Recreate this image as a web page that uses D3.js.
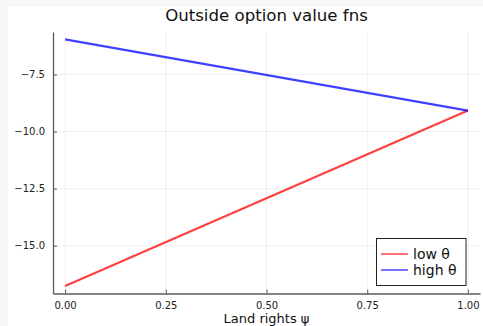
<!DOCTYPE html>
<html>
<head>
<meta charset="utf-8">
<script src="https://cdn.jsdelivr.net/npm/d3@7"></script>
<style>
  html, body { margin: 0; padding: 0; background: #f6f7f9; }
  svg { display: block; font-family: "DejaVu Sans", sans-serif; }
</style>
</head>
<body>
<svg id="chart" width="483" height="326"></svg>
<script>
// Outside option value as a function of land rights ψ
const psi = [0, 1];
const lowTheta = [-16.77, -9.08];
const highTheta = [-5.96, -9.08];
const seriesNames = ["low θ", "high θ"];
const seriesColors = ["#ff0000", "#0000ff"];
const xTicks = [0, 0.25, 0.5, 0.75, 1.0];
const yTicks = [-15, -12.5, -10, -7.5];

const svg = d3.select("#chart");
const W = 483, H = 326;

// white figure panel
svg.append("rect").attr("x", 8).attr("y", 7).attr("width", W - 8).attr("height", H - 7).attr("fill", "#ffffff");

const plot = { left: 53, right: 480, top: 32, bottom: 293.5 };

// pad the data range by 3% on each side
function widen(ext) { const d = (ext[1] - ext[0]) * 0.03; return [ext[0] - d, ext[1] + d]; }
const allY = lowTheta.concat(highTheta);
const x = d3.scaleLinear().domain(widen(d3.extent(psi))).range([plot.left, plot.right]);
const y = d3.scaleLinear().domain(widen(d3.extent(allY))).range([plot.bottom, plot.top]);

// grid
const grid = svg.append("g").attr("stroke", "#000").attr("stroke-opacity", 0.06).attr("stroke-width", 1);
xTicks.forEach(t => grid.append("line").attr("x1", x(t)).attr("x2", x(t)).attr("y1", plot.top).attr("y2", plot.bottom));
yTicks.forEach(t => grid.append("line").attr("x1", plot.left).attr("x2", plot.right).attr("y1", y(t)).attr("y2", y(t)));

// axes
const xAxis = d3.axisBottom(x).tickValues(xTicks).tickFormat(d3.format(".2f")).tickSizeInner(-4).tickSizeOuter(0).tickPadding(8);
const yAxis = d3.axisLeft(y).tickValues(yTicks).tickFormat(d3.format(".1f")).tickSizeInner(-4).tickSizeOuter(0).tickPadding(8);

const gx = svg.append("g").attr("transform", `translate(0,${plot.bottom})`).call(xAxis);
const gy = svg.append("g").attr("transform", `translate(${plot.left},0)`).call(yAxis);
[gx, gy].forEach(g => {
  g.select(".domain").attr("stroke", "#5a5a5a").attr("stroke-width", 1.3);
  g.selectAll(".tick line").attr("stroke", "#5a5a5a").attr("stroke-width", 1);
  g.selectAll(".tick text").attr("fill", "#222").style("font-size", "10px").style("font-family", "DejaVu Sans, sans-serif");
});

// series lines
const line = d3.line().x((d, i) => x(psi[i])).y(d => y(d));
[lowTheta, highTheta].forEach((s, k) => {
  svg.append("path").datum(s).attr("d", line).attr("fill", "none")
    .attr("stroke", seriesColors[k]).attr("stroke-opacity", 0.75).attr("stroke-width", 2.2);
});

// title and axis label
svg.append("text").attr("x", (plot.left + plot.right) / 2).attr("y", 21).attr("text-anchor", "middle")
  .style("font-size", "16.6px").attr("fill", "#111").text("Outside option value fns");
svg.append("text").attr("x", (plot.left + plot.right) / 2).attr("y", 323).attr("text-anchor", "middle")
  .style("font-size", "13px").attr("fill", "#111").text("Land rights ψ");

// legend
const lg = svg.append("g");
lg.append("rect").attr("x", 376.5).attr("y", 238.5).attr("width", 89.5).attr("height", 47)
  .attr("fill", "#fff").attr("stroke", "#222").attr("stroke-width", 1);
seriesNames.forEach((n, k) => {
  const cy = 254 + k * 16;
  lg.append("line").attr("x1", 381).attr("x2", 408).attr("y1", cy).attr("y2", cy)
    .attr("stroke", seriesColors[k]).attr("stroke-opacity", 0.55).attr("stroke-width", 2);
  lg.append("text").attr("x", 413).attr("y", cy + 5).style("font-size", "14px").attr("fill", "#111").text(n);
});
</script>
</body>
</html>
